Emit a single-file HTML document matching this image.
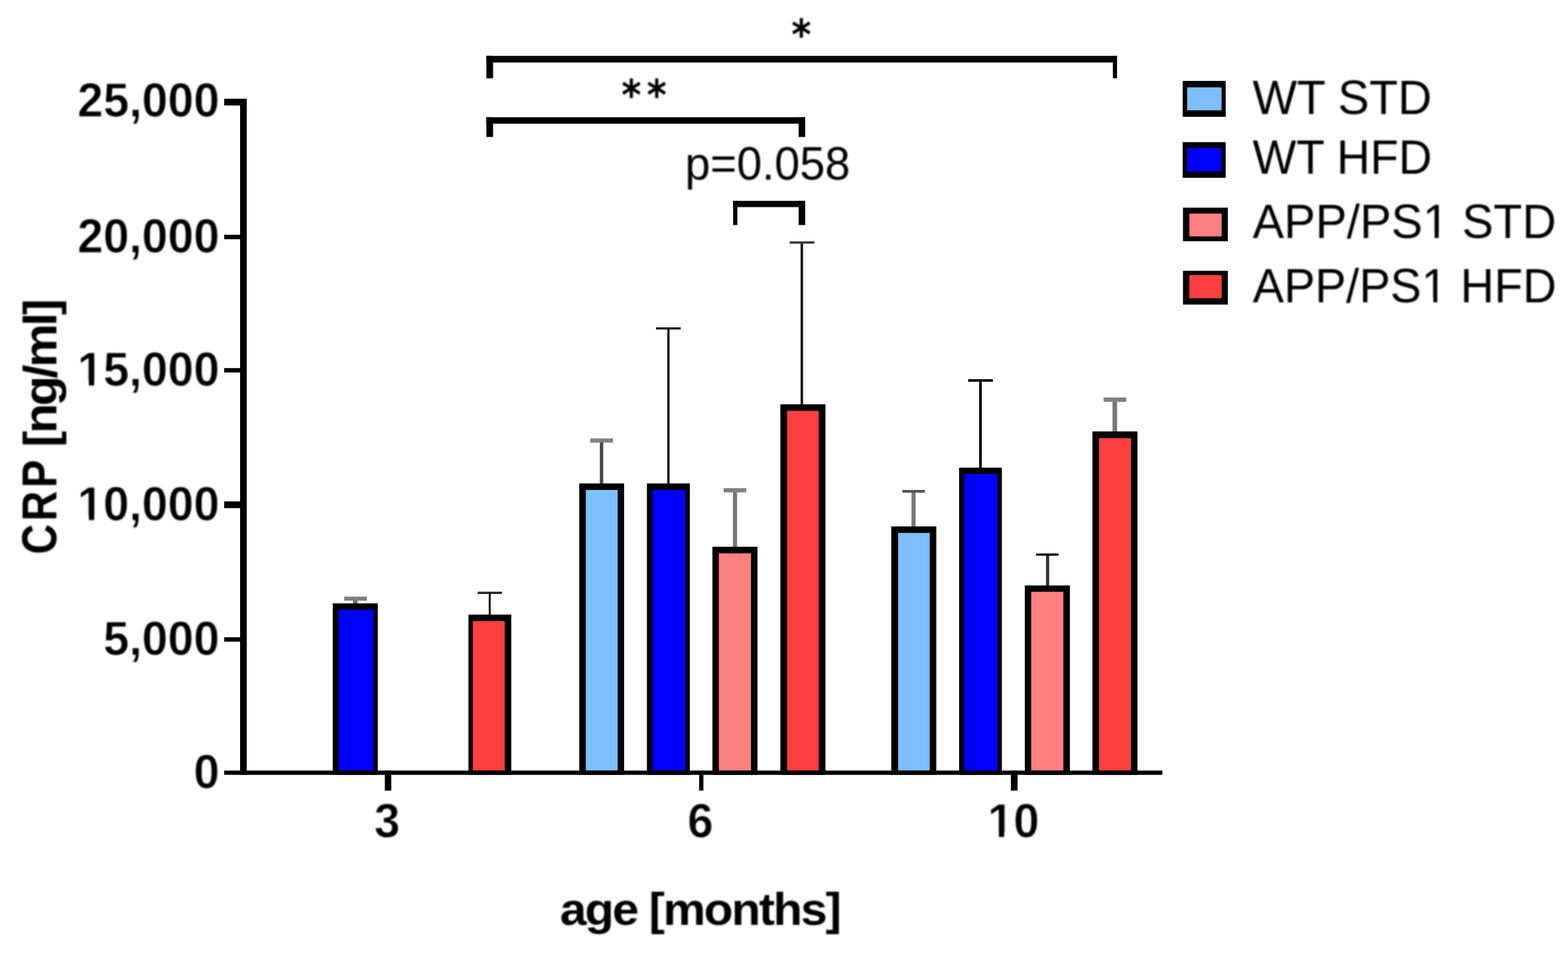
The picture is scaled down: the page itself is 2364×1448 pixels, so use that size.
<!DOCTYPE html>
<html lang="en"><head><meta charset="utf-8"><title>CRP [ng/ml] by age [months]</title>
<style>
html,body{margin:0;padding:0;background:#fff;}
body{width:2364px;height:1448px;overflow:hidden;}
svg{display:block;}
text{font-family:"Liberation Sans",Arial,Helvetica,sans-serif;fill:#000;}
.b{font-weight:bold;}
.m{font-family:"DejaVu Sans Mono","Liberation Mono",monospace;font-weight:bold;}
.t{stroke:#fff;stroke-width:0.8px;stroke-linejoin:round;}
</style></head><body>
<svg width="2364" height="1448" viewBox="0 0 2364 1448">
<defs><filter id="soft" x="-5%" y="-5%" width="110%" height="110%" color-interpolation-filters="sRGB"><feGaussianBlur stdDeviation="0.85"/></filter></defs>
<rect x="0" y="0" width="2364" height="1448" fill="#fff"/>
<g id="errorbars">
<rect x="532.1" y="900.9" width="6.8" height="11.2" fill="#6a6a6a"/>
<rect x="519.0" y="899.9" width="34.1" height="6.1" fill="#808080"/>
<rect x="736.8" y="893.5" width="3.1" height="35.5" fill="#1a1a1a"/>
<rect x="720.3" y="892.5" width="36.5" height="3.4" fill="#222"/>
<rect x="904.4" y="662.3" width="5.0" height="68.9" fill="#444"/>
<rect x="889.9" y="661.3" width="34.1" height="6.3" fill="#808080"/>
<rect x="1005.9" y="494.6" width="3.6" height="236.6" fill="#1a1a1a"/>
<rect x="989.1" y="493.6" width="37.2" height="3.4" fill="#1a1a1a"/>
<rect x="1105.0" y="737.3" width="6.3" height="89.4" fill="#777"/>
<rect x="1091.0" y="736.3" width="34.1" height="6.3" fill="#808080"/>
<rect x="1207.0" y="365.1" width="3.8" height="246.7" fill="#1a1a1a"/>
<rect x="1190.5" y="364.1" width="37.3" height="3.4" fill="#333"/>
<rect x="1374.2" y="740.0" width="6.3" height="56.0" fill="#777"/>
<rect x="1360.4" y="739.0" width="34.1" height="4.2" fill="#555"/>
<rect x="1476.2" y="572.9" width="4.0" height="134.5" fill="#000"/>
<rect x="1459.7" y="571.9" width="37.2" height="3.9" fill="#000"/>
<rect x="1577.0" y="835.8" width="4.8" height="49.3" fill="#333"/>
<rect x="1562.1" y="834.8" width="33.9" height="3.4" fill="#000"/>
<rect x="1677.3" y="600.5" width="6.9" height="52.2" fill="#777"/>
<rect x="1663.9" y="599.5" width="34.1" height="6.6" fill="#808080"/>
</g>
<g id="bars">
<rect x="501.7" y="910.1" width="67.9" height="258.6" fill="#000"/>
<rect x="510.5" y="919.6" width="52.8" height="242.7" fill="#0000ff"/>
<rect x="706.3" y="927.0" width="64.5" height="241.7" fill="#000"/>
<rect x="712.8" y="936.9" width="48.1" height="225.4" fill="#ff3f3f"/>
<rect x="873.3" y="729.2" width="67.7" height="439.5" fill="#000"/>
<rect x="883.2" y="739.0" width="48.0" height="423.3" fill="#7cbffb"/>
<rect x="975.3" y="729.2" width="64.7" height="439.5" fill="#000"/>
<rect x="983.5" y="739.0" width="49.9" height="423.3" fill="#0000ff"/>
<rect x="1074.1" y="824.7" width="67.9" height="344.0" fill="#000"/>
<rect x="1083.8" y="834.6" width="48.5" height="327.7" fill="#ff8080"/>
<rect x="1176.5" y="609.8" width="68.0" height="558.9" fill="#000"/>
<rect x="1186.7" y="619.6" width="47.6" height="542.7" fill="#ff3f3f"/>
<rect x="1343.7" y="794.0" width="67.9" height="374.7" fill="#000"/>
<rect x="1354.1" y="803.8" width="47.6" height="358.5" fill="#7cbffb"/>
<rect x="1446.0" y="705.4" width="64.5" height="463.3" fill="#000"/>
<rect x="1453.5" y="715.0" width="50.4" height="447.3" fill="#0000ff"/>
<rect x="1545.0" y="883.1" width="68.0" height="285.6" fill="#000"/>
<rect x="1554.7" y="892.6" width="48.5" height="269.7" fill="#ff8080"/>
<rect x="1647.0" y="650.7" width="67.9" height="518.0" fill="#000"/>
<rect x="1657.0" y="660.9" width="48.0" height="501.4" fill="#ff3f3f"/>
</g>
<g id="axes" fill="#000">
<rect x="362.0" y="148.9" width="10.0" height="1019.8"/>
<rect x="338.0" y="1162.3" width="1414.4" height="6.4"/>
<rect x="338.0" y="148.9" width="25.0" height="10.2"/>
<rect x="338.0" y="354.1" width="25.0" height="6.7"/>
<rect x="338.0" y="555.2" width="25.0" height="6.6"/>
<rect x="338.0" y="756.3" width="25.0" height="10.1"/>
<rect x="338.0" y="961.2" width="25.0" height="6.6"/>
<rect x="580.2" y="1162.3" width="9.7" height="30.2"/>
<rect x="1054.1" y="1162.3" width="6.4" height="30.2"/>
<rect x="1524.0" y="1162.3" width="10.2" height="30.2"/>
</g>
<g id="ylabels" filter="url(#soft)">
<text transform="translate(292.05,1189.23) scale(1.0000,1.0291)" font-size="70" class="b t">0</text>
<text transform="translate(155.73,988.23) scale(1.0000,1.0291)" font-size="70" class="b t">5,000</text>
<text transform="translate(116.73,784.73) scale(1.0000,1.0291)" font-size="70" class="b t">10,000</text>
<text transform="translate(116.73,581.93) scale(1.0000,1.0291)" font-size="70" class="b t">15,000</text>
<text transform="translate(116.73,380.93) scale(1.0000,1.0291)" font-size="70" class="b t">20,000</text>
<text transform="translate(116.80,176.44) scale(1.0000,1.0291)" font-size="70" class="b t">25,000</text>
<rect x="118" y="776.5" width="16" height="11" fill="#fff"/>
<rect x="142" y="776.5" width="15" height="11" fill="#fff"/>
<rect x="118" y="573.5" width="16" height="11" fill="#fff"/>
<rect x="142" y="573.5" width="15" height="11" fill="#fff"/>
</g>
<g id="xlabels" filter="url(#soft)">
<text transform="translate(564.37,1263.36) scale(1.0000,1.0308)" font-size="70" class="b t">3</text>
<text transform="translate(1036.59,1263.35) scale(1.0000,1.0222)" font-size="70" class="b t">6</text>
<text transform="translate(1489.02,1263.43) scale(1.0000,1.0190)" font-size="70" class="b t">10</text>
<text transform="translate(844.15,1394.65) scale(1.0300,0.9904)" font-size="70" class="b" letter-spacing="-2.462">age [months]</text>
<rect x="1490" y="1254.5" width="16" height="11" fill="#fff"/>
<rect x="1514" y="1254.5" width="16" height="11" fill="#fff"/>
</g>
<g id="ytitle" filter="url(#soft)">
<text transform="translate(84.50,836.03) rotate(-90) scale(0.9000,1.0615)" font-size="70" class="b" letter-spacing="5.131">CRP</text>
<text transform="translate(84.75,674.44) rotate(-90) scale(1.0600,1.0106)" font-size="70" class="b" letter-spacing="-3.688">[ng/ml]</text>
</g>
<g id="brackets" fill="#000">
<rect x="733.3" y="84.3" width="950.8" height="10.0"/>
<rect x="733.3" y="84.3" width="10.1" height="33.9"/>
<rect x="1677.8" y="84.3" width="6.3" height="33.8"/>
<rect x="733.3" y="176.8" width="480.6" height="9.8"/>
<rect x="733.3" y="176.8" width="10.1" height="29.8"/>
<rect x="1204.0" y="176.8" width="9.9" height="29.8"/>
<rect x="1105.3" y="302.9" width="108.6" height="9.5"/>
<rect x="1105.3" y="302.9" width="6.4" height="36.5"/>
<rect x="1204.0" y="302.9" width="9.9" height="36.5"/>
</g>
<g id="sig" filter="url(#soft)">
<text transform="translate(1191.03,75.09) scale(0.9514,1.0649)" font-size="60" class="m">*</text>
<text transform="translate(934.68,166.48) scale(0.9514,1.0649)" font-size="60" class="m" letter-spacing="4.085">**</text>
<text transform="translate(1032.72,271.31) scale(0.9772,0.9985)" font-size="70">p=0.058</text>
</g>
<g id="legend">
<rect x="1783.1" y="122.0" width="64.8" height="54.2" fill="#000"/>
<rect x="1789.8" y="131.7" width="51.9" height="34.7" fill="#7cbffb"/>
<rect x="1783.1" y="214.4" width="64.8" height="53.8" fill="#000"/>
<rect x="1789.8" y="223.2" width="51.9" height="35.6" fill="#0000ff"/>
<rect x="1783.5" y="313.2" width="67.7" height="50.6" fill="#000"/>
<rect x="1793.2" y="322.2" width="48.6" height="34.4" fill="#ff8080"/>
<rect x="1783.5" y="408.5" width="67.7" height="50.9" fill="#000"/>
<rect x="1793.2" y="414.9" width="48.6" height="35.0" fill="#ff3f3f"/>
</g>
<g id="legend-labels" filter="url(#soft)">
<text transform="translate(1888.38,171.85) scale(1.0130,1.0310)" font-size="70">WT STD</text>
<text transform="translate(1888.52,261.65) scale(0.9982,1.0310)" font-size="70">WT HFD</text>
<text transform="translate(1888.45,359.05) scale(1.0145,1.0310)" font-size="70">APP/PS1 STD</text>
<text transform="translate(1888.65,455.50) scale(1.0064,1.0204)" font-size="70">APP/PS1 HFD</text>
<rect x="2146" y="351.5" width="17" height="11" fill="#fff"/>
<rect x="2169" y="351.5" width="16" height="11" fill="#fff"/>
<rect x="2144" y="448.5" width="17" height="11" fill="#fff"/>
<rect x="2167" y="448.5" width="16" height="11" fill="#fff"/>
</g>
</svg>
</body></html>
